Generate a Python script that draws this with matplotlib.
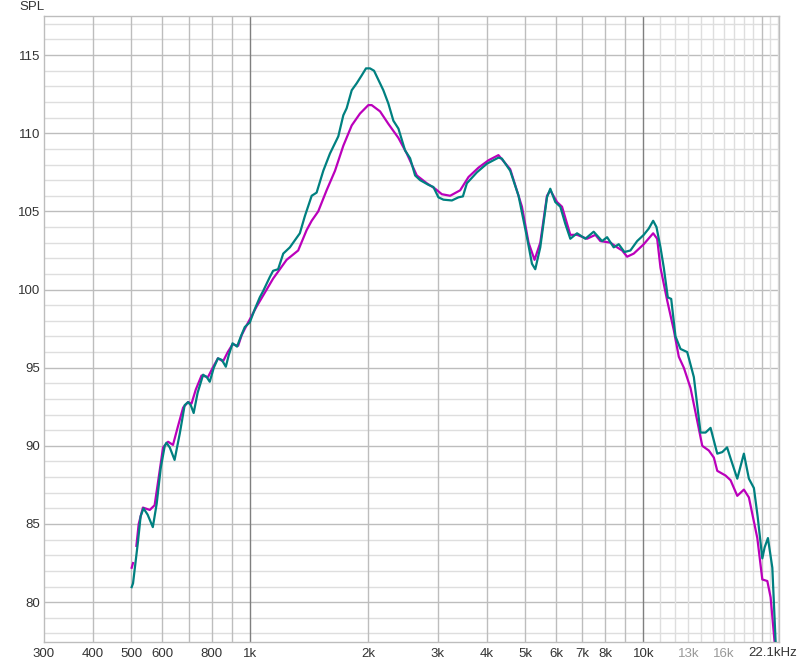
import numpy as np
import matplotlib.pyplot as plt
from matplotlib.transforms import blended_transform_factory

# teal trace (frequency Hz, SPL dB)
freq_teal = [501, 505, 520, 528, 537, 550, 567, 580, 594, 608, 614, 626, 644, 664,
             683, 697, 708, 720, 737, 761, 777, 791, 810, 830, 849, 869, 884, 904,
             928, 949, 971, 1000, 1030, 1060, 1081, 1124, 1146, 1180, 1216, 1264,
             1340, 1380, 1436, 1478, 1537, 1598, 1678, 1728, 1762, 1815, 1869, 1924,
             1973, 2020, 2068, 2133, 2184, 2249, 2316, 2385, 2480, 2554, 2630, 2708,
             2843, 2927, 3014, 3104, 3261, 3389, 3478, 3560, 3775, 4002, 4282, 4369,
             4587, 4816, 5059, 5209, 5311, 5469, 5688, 5799, 5971, 6149, 6332, 6520,
             6781, 7119, 7474, 7851, 8085, 8404, 8654, 8947, 9267, 9638, 10018,
             10315, 10585, 10792, 11048, 11264, 11531, 11763, 12063, 12421, 12919,
             13429, 13966, 14381, 14808, 15401, 15859, 16311, 16746, 17314, 17996,
             18531, 19082, 19500, 20045, 20317, 20714, 21254, 21669, 21796]
spl_teal = [80.96, 81.2, 83.9, 85.5, 86.0, 85.6, 84.8, 86.3, 88.6, 90.0, 90.2, 89.9,
            89.1, 90.8, 92.6, 92.8, 92.6, 92.1, 93.4, 94.55, 94.4, 94.1, 95.0, 95.6,
            95.5, 95.06, 95.8, 96.56, 96.35, 97.0, 97.6, 97.9, 98.76, 99.5, 99.9,
            100.8, 101.2, 101.3, 102.3, 102.7, 103.6, 104.7, 106.0, 106.2, 107.6,
            108.7, 109.8, 111.15, 111.6, 112.75, 113.2, 113.7, 114.15, 114.15, 114.0,
            113.3, 112.75, 111.9, 110.8, 110.3, 108.9, 108.4, 107.3, 107.0, 106.7,
            106.56, 105.9, 105.75, 105.7, 105.9, 105.96, 106.8, 107.5, 108.05,
            108.44, 108.38, 107.6, 106.0, 103.35, 101.65, 101.3, 102.7, 105.9,
            106.45, 105.6, 105.3, 104.2, 103.25, 103.6, 103.25, 103.7, 103.1, 103.35,
            102.7, 102.9, 102.4, 102.5, 103.1, 103.5, 103.9, 104.4, 104.0, 102.7,
            101.4, 99.5, 99.4, 97.0, 96.2, 96.0, 94.4, 90.85, 90.85, 91.15, 89.5,
            89.6, 89.9, 89.0, 87.9, 89.5, 87.9, 87.3, 85.5, 82.8, 83.5, 84.1, 82.2,
            77.4, 76.0]

# magenta trace (nan marks the gap near the start)
freq_mag = [501, 505, np.nan, 515, 522, 535, 557, 573, 587, 602, 620, 638, 656, 677,
            697, 711, 729, 754, 783, 805, 830, 855, 879, 904, 934, 954, 981, 1040,
            1146, 1240, 1327, 1394, 1436, 1492, 1567, 1646, 1728, 1815, 1905, 2000,
            2040, 2142, 2249, 2385, 2505, 2656, 2816, 2957, 3075, 3228, 3423, 3594,
            3810, 4040, 4282, 4587, 4913, 5107, 5289, 5469, 5688, 5799, 6031, 6211,
            6520, 6781, 7190, 7549, 7774, 8242, 8573, 8828, 9090, 9448, 10018,
            10585, 10836, 11048, 11490, 11944, 12298, 12664, 13171, 13698, 14106,
            14661, 15097, 15401, 16168, 16648, 17314, 17996, 18531, 19466, 20045,
            20641, 21044, 21544, 21669]
spl_mag = [82.2, 82.5, np.nan, 83.6, 85.0, 86.05, 85.9, 86.2, 88.0, 89.9, 90.26,
           90.06, 91.2, 92.45, 92.8, 92.7, 93.6, 94.5, 94.4, 95.0, 95.6, 95.4, 96.0,
           96.5, 96.4, 97.1, 97.7, 98.9, 100.7, 101.9, 102.5, 103.8, 104.4, 105.0,
           106.35, 107.6, 109.2, 110.5, 111.26, 111.8, 111.8, 111.4, 110.6, 109.7,
           108.7, 107.3, 106.8, 106.45, 106.1, 106.0, 106.35, 107.2, 107.8, 108.27,
           108.6, 107.7, 105.3, 103.0, 101.9, 103.0, 106.0, 106.35, 105.6, 105.3,
           103.5, 103.5, 103.25, 103.5, 103.1, 103.0, 102.7, 102.5, 102.1, 102.3,
           102.9, 103.6, 103.25, 101.4, 99.3, 97.4, 95.7, 95.0, 93.7, 91.6, 90.0,
           89.7, 89.25, 88.4, 88.1, 87.8, 86.8, 87.2, 86.7, 84.1, 81.45, 81.35,
           80.3, 77.4, 76.0]

xtick_vals = [300, 400, 500, 600, 800, 1000, 2000, 3000, 4000, 5000, 6000, 7000,
              8000, 10000, 13000, 16000]
xtick_text = ['300', '400', '500', '600', '800', '1k', '2k', '3k', '4k', '5k', '6k',
              '7k', '8k', '10k', '13k', '16k']
ytick_vals = [80, 85, 90, 95, 100, 105, 110, 115]

plt.rcParams['font.family'] = ['Liberation Sans', 'DejaVu Sans']

fig = plt.figure(figsize=(8, 6.65), dpi=100)
ax = fig.add_axes([0.055, 0.0346, 0.91875, 0.9413])

ax.set_xscale('log')
ax.set_xlim(300, 22100)
ax.set_ylim(77.45, 117.5)

# horizontal grid
for v in range(78, 118):
    c = '#bdbdbd' if v % 5 == 0 else '#dedede'
    ax.axhline(v, color=c, lw=1, zorder=0)

# vertical grid
for f in [400, 500, 600, 700, 800, 900, 2000, 3000, 4000, 5000, 6000, 7000, 8000, 9000, 20000]:
    ax.axvline(f, color='#bdbdbd', lw=1, zorder=0)
for f in range(11000, 23000, 1000):
    if f != 20000:
        ax.axvline(f, color='#dedede', lw=1, zorder=0)
for f in [1000, 10000]:
    ax.axvline(f, color='#7f7f7f', lw=1, zorder=0)

ax.plot(freq_mag, spl_mag, color='#bb00bb', lw=1.6, zorder=2)
ax.plot(freq_teal, spl_teal, color='#008080', lw=1.6, zorder=3)

ax.set_xticks(xtick_vals)
ax.set_xticklabels(xtick_text)
ax.xaxis.set_minor_locator(plt.NullLocator())
ax.set_yticks(ytick_vals)
ax.set_yticklabels([str(v) for v in ytick_vals])
ax.tick_params(length=0, labelsize=9.5, colors='#333333')
ax.tick_params(axis='x', pad=4)
ax.tick_params(axis='y', pad=3)
for lab in ax.get_xticklabels():
    if lab.get_text() in ('13k', '16k'):
        lab.set_color('#999999')

for s in ax.spines.values():
    s.set_color('#bdbdbd')
    s.set_linewidth(1)

trans = blended_transform_factory(ax.transData, ax.transAxes)
ax.text(21360, -0.008, '22.1kHz', transform=trans, ha='center', va='top',
        fontsize=9.5, color='#333333', clip_on=False)
fig.text(0.024, 1 - 7 / 665, 'SPL', ha='left', va='center', fontsize=9.5, color='#333333')

fig.savefig('out.png', dpi=100)
